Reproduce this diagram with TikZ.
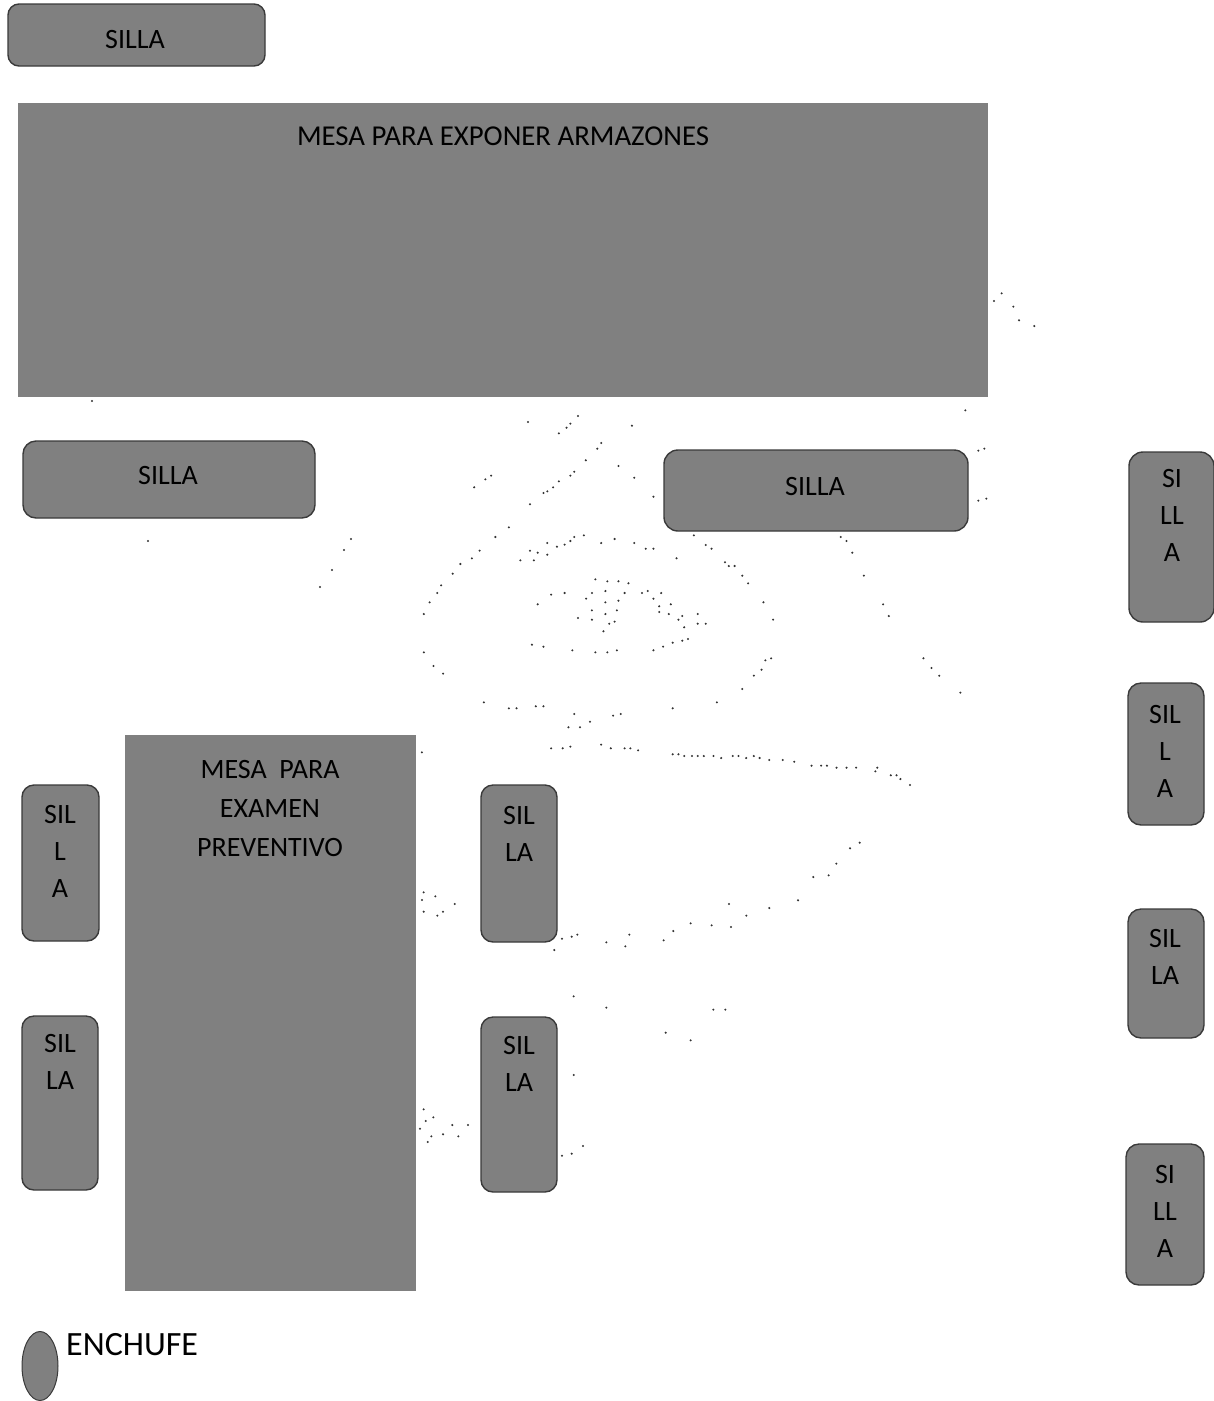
\documentclass[tikz,border=0pt]{standalone}
\usepackage{fontspec}
\setmainfont{Carlito}
\usetikzlibrary{shapes.geometric}
\definecolor{dith}{HTML}{808080}
\definecolor{edge}{HTML}{3A3A3A}
\tikzset{
  mesabox/.style={rectangle,fill=dith,draw=dith,line width=.5pt,inner sep=0pt,outer sep=0pt},
  sillabox/.style={rectangle,rounded corners=#1,fill=dith,draw=edge,line width=1.4pt,inner sep=0pt,outer sep=0pt},
  sillabox/.default=11pt,
  lab/.style={font=\fontsize{28}{37}\selectfont,text=black,align=center,inner sep=0pt},
  dotmark/.style={fill=black!80}
}
\begin{document}
\begin{tikzpicture}[x=1pt,y=-1pt]
\useasboundingbox (0,0) rectangle (1214,1401);
\clip (0,0) rectangle (1214,1401);
% tables
\node[mesabox,minimum width=969pt,minimum height=293pt] (mesaA) at (502.5,249.5) {};
\node[mesabox,minimum width=290pt,minimum height=555pt] (mesaB) at (270,1012.5) {};
% chairs
\node[sillabox,minimum width=257pt,minimum height=62pt] (s1) at (136.5,35) {};
\node[sillabox=13pt,minimum width=292pt,minimum height=77pt] (s2) at (169,479.5) {};
\node[sillabox=14pt,minimum width=304pt,minimum height=81pt] (s3) at (816,490.5) {};
\node[sillabox=14pt,minimum width=85pt,minimum height=170pt] (r1) at (1171.5,537) {};
\node[sillabox=13pt,minimum width=76pt,minimum height=142pt] (r2) at (1166,754) {};
\node[sillabox=13pt,minimum width=76pt,minimum height=129pt] (r3) at (1166,973.5) {};
\node[sillabox=13pt,minimum width=78pt,minimum height=141pt] (r4) at (1165,1214.5) {};
\node[sillabox=12pt,minimum width=77pt,minimum height=156pt] (l1) at (60.5,863) {};
\node[sillabox=12pt,minimum width=76pt,minimum height=174pt] (l2) at (60,1103) {};
\node[sillabox=12pt,minimum width=76pt,minimum height=157pt] (m1) at (519,863.5) {};
\node[sillabox=12pt,minimum width=76pt,minimum height=175pt] (m2) at (519,1104.5) {};
% socket
\node[ellipse,fill=dith,draw=edge,line width=1pt,inner sep=0pt,minimum width=36pt,minimum height=69pt] (plug) at (40,1366) {};
% labels
\node[lab] (t1) at (135,40) {SILLA};
\node[lab,font=\fontsize{28.8}{37}\selectfont] (t2) at (503,136) {MESA PARA EXPONER ARMAZONES};
\node[lab] (t3) at (168,476) {SILLA};
\node[lab] (t4) at (815,487) {SILLA};
\node[lab] (t5) at (1172,515) {SI\\LL\\A};
\node[lab] (t6) at (1165,751) {SIL\\L\\A};
\node[lab] (t7) at (1165,957) {SIL\\LA};
\node[lab] (t8) at (1165,1211) {SI\\LL\\A};
\node[lab] (t9) at (60,851) {SIL\\L\\A};
\node[lab] (t10) at (60,1062) {SIL\\LA};
\node[lab] (t11) at (519,834) {SIL\\LA};
\node[lab] (t12) at (519,1064) {SIL\\LA};
\node[lab] (t13) at (270,808) {MESA~~PARA\\[2pt]EXAMEN\\[2pt]PREVENTIVO};
\node[lab,anchor=west,font=\fontsize{34}{38}\selectfont] (t14) at (66,1345) {ENCHUFE};
% dots, region around the eye
\foreach \x/\y in {333/66,413/100,433/83,443/71,463/48,603/77,523/129,513/146,483/181,453/215,443/227,413/244,398/262,383/274,373/279,338/313,568/198,609/233,659/290,283/382,248/411,207/452,187/475,157/492,137/521,107/556,97/579,77/607,62/642,193/262,222/238,237/227,
338/452,358/458,383/429,383/464,408/440,428/434,443/423,453/411,478/406,523/429,558/417,609/429,639/446,659/446,313/481,348/481,764/406,795/435,810/446,719/475,845/487,855/498,870/498,890/527,905/550,945/607,970/659,
508/538,539/544,568/544,594/550,393/584,428/579,358/613,499/579,534/573,584/579,629/579,644/573,679/579,484/596,534/607,568/602,659/596,674/619,704/613,499/631,534/642,564/631,674/636,699/642,734/648,774/642,463/654,499/659,724/659,544/671,558/665,774/671,795/671,529/694,739/682,
343/734,373/740,448/751,508/757,539/757,564/751,659/751,684/740,709/728,734/722,749/717,965/775,950/781,940/809,920/827,890/867,824/907,709/925,62/757,87/798,112/821,
218/907,283/925,303/925,353/919,373/919,453/942,554/947,574/942,494/965,438/982,468/982,393/1045,423/1045,443/1040,523/1034,548/1045,584/1045,599/1045,619/1051,57/1057,
709/1063,724/1063,739/1068,759/1068,774/1068,790/1068,815/1068,835/1074,865/1068,880/1068,900/1074,920/1068,935/1074,960/1080,995/1080,1025/1085,1070/1097,1095/1097,1110/1097,1135/1103,1161/1103,1186/1103,1241/1103,1236/1114,1276/1126,1291/1126,1301/1137,1326/1155,
1146/411,1161/423,1176/458,1206/527,1256/613,1271/648,1361/775,1382/804,1402/827,1457/878}
  \fill[dotmark] ({400+\x/2.6},{400+\y/3}) circle (1.15pt);
% dots, lower region
\foreach \x/\y in {41/217,36/240,76/229,41/275,99/275,82/287,134/252,433/390,456/356,485/350,502/344,589/367,658/344,646/379,761/361,790/333,842/310,905/316,963/321,957/252,1009/287,1078/264,1164/241,1210/171,1256/166,1279/131,1320/85,1349/68,
491/529,589/563,910/569,946/569,767/638,842/661,491/765,41/868,70/892,47/903,30/926,127/915,174/915,64/949,99/943,145/949,53/966,456/1007,485/1001,519/978}
  \fill[dotmark] ({410+\x/3},{820+\y/3}) circle (1.15pt);
% dots, right of the upper table
\foreach \x/\y in {155/40,132/63,190/80,207/121,253/138,46/391,85/512,103/506,85/662,109/656}
  \fill[dotmark] ({950+\x/3},{280+\y/3}) circle (1.15pt);
% dots, left
\foreach \x/\y in {92/401,148/541,351/539,344/550,332/570,320/587}
  \fill[dotmark] (\x,\y) circle (1.15pt);
\end{tikzpicture}
\end{document}
